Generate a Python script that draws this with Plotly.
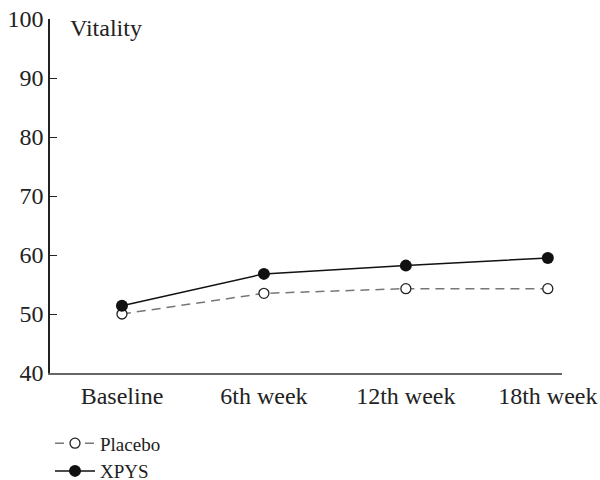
import plotly.graph_objects as go

# Time points and mean vitality scores per group
timepoints = ["Baseline", "6th week", "12th week", "18th week"]
placebo = [50.0, 53.5, 54.3, 54.3]
xpys = [51.4, 56.8, 58.2, 59.5]
y_ticks = [40, 50, 60, 70, 80, 90, 100]

positions = list(range(len(timepoints)))
serif = "Liberation Serif, Times New Roman, serif"

fig = go.Figure()

fig.add_trace(go.Scatter(
    x=positions, y=placebo, name="Placebo", mode="lines+markers",
    line=dict(color="#777777", width=1.5, dash="9px,6px"),
    marker=dict(symbol="circle", size=10, color="white",
                line=dict(color="#222222", width=1.3)),
))
fig.add_trace(go.Scatter(
    x=positions, y=xpys, name="XPYS", mode="lines+markers",
    line=dict(color="#111111", width=1.5),
    marker=dict(symbol="circle", size=12, color="#111111",
                line=dict(color="#111111", width=0)),
))

fig.update_layout(
    width=600, height=480,
    margin=dict(l=50, r=38, t=19, b=107, autoexpand=False),
    paper_bgcolor="white", plot_bgcolor="white",
    font=dict(family=serif, size=24, color="#222222"),
    showlegend=True,
    legend=dict(
        xref="paper", yref="paper",
        x=0.0, y=-0.145, xanchor="left", yanchor="top",
        font=dict(family=serif, size=19, color="#222222"),
        itemwidth=40, tracegroupgap=0, borderwidth=0,
        bgcolor="rgba(0,0,0,0)",
    ),
    xaxis=dict(
        range=[-0.507, 3.1], tickmode="array", tickvals=positions,
        ticktext=timepoints, ticks="", showgrid=False, zeroline=False,
        showline=True, linecolor="#666666", linewidth=2,
        tickfont=dict(family=serif, size=24, color="#222222"),
    ),
    yaxis=dict(
        range=[40, 100], tickmode="array", tickvals=y_ticks,
        ticks="inside", ticklen=7, tickwidth=1.3, tickcolor="#222222",
        showgrid=False, zeroline=False,
        showline=True, linecolor="#222222", linewidth=1.5,
        tickfont=dict(family=serif, size=24, color="#222222"),
    ),
    annotations=[dict(
        text="Vitality", xref="paper", yref="paper",
        x=0.035, y=0.975, xanchor="left", yanchor="middle",
        showarrow=False, font=dict(family=serif, size=24, color="#222222"),
    )],
)

fig.write_html("out.html")
